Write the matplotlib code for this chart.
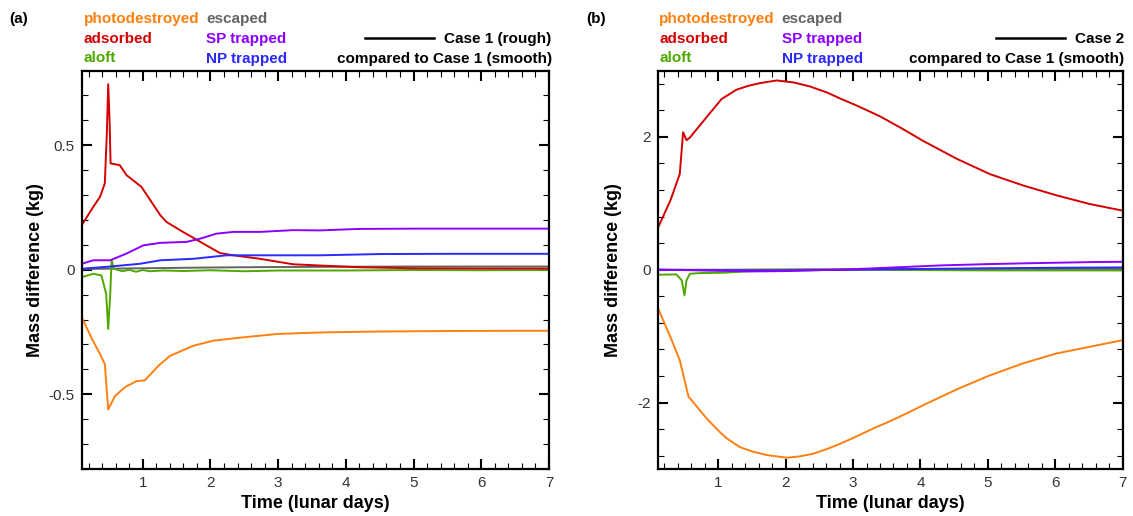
import matplotlib
matplotlib.use("Agg")
import matplotlib.pyplot as plt
from matplotlib.ticker import MultipleLocator, FixedLocator
from matplotlib.lines import Line2D

plt.rcParams['font.family'] = ['Liberation Sans', 'DejaVu Sans']
plt.rcParams['axes.unicode_minus'] = False

# ---------------- Data: panel (a) Case 1 (rough) vs Case 1 (smooth) ----------------
a_photo_t = [0.1, 0.25, 0.37, 0.44, 0.49, 0.59, 0.74, 0.91, 1.03, 1.23, 1.40, 1.75, 2.04, 2.39, 2.98, 3.37, 3.76, 4.5, 5.5, 6.5, 7.0]
a_photo_v = [-0.191, -0.278, -0.339, -0.379, -0.561, -0.507, -0.471, -0.447, -0.444, -0.386, -0.346, -0.305, -0.285, -0.274, -0.258, -0.254, -0.251, -0.248, -0.246, -0.245, -0.245]

a_ads_t = [0.1, 0.27, 0.37, 0.44, 0.47, 0.49, 0.51, 0.525, 0.66, 0.76, 0.98, 1.26, 1.35, 1.55, 1.85, 2.14, 2.34, 2.73, 3.22, 3.62, 4.2, 5.0, 6.0, 7.0]
a_ads_v = [0.179, 0.253, 0.293, 0.347, 0.55, 0.745, 0.60, 0.427, 0.42, 0.38, 0.333, 0.219, 0.192, 0.159, 0.112, 0.067, 0.058, 0.044, 0.022, 0.017, 0.01, 0.006, 0.005, 0.005]

a_aloft_t = [0.1, 0.27, 0.39, 0.46, 0.49, 0.52, 0.54, 0.57, 0.7, 0.8, 0.9, 1.0, 1.1, 1.3, 1.6, 2.0, 2.5, 3.0, 4.0, 5.0, 6.0, 7.0]
a_aloft_v = [-0.03, -0.016, -0.023, -0.097, -0.238, -0.097, 0.04, 0.004, -0.006, 0.0, -0.008, -0.001, -0.006, -0.003, -0.005, -0.002, -0.006, -0.003, -0.003, -0.001, -0.002, -0.001]

a_esc_t = [0.1, 1.0, 2.0, 3.0, 4.0, 5.0, 6.0, 7.0]
a_esc_v = [0.003, 0.006, 0.009, 0.011, 0.012, 0.013, 0.013, 0.013]

a_sp_t = [0.1, 0.27, 0.52, 0.76, 1.01, 1.26, 1.65, 1.85, 2.09, 2.34, 2.73, 3.22, 3.62, 4.2, 5.0, 6.0, 7.0]
a_sp_v = [0.024, 0.038, 0.038, 0.065, 0.098, 0.108, 0.112, 0.125, 0.145, 0.152, 0.152, 0.159, 0.158, 0.164, 0.165, 0.165, 0.165]

a_np_t = [0.1, 0.52, 0.96, 1.26, 1.75, 2.24, 2.73, 3.62, 4.5, 5.5, 7.0]
a_np_v = [0.004, 0.013, 0.024, 0.038, 0.044, 0.058, 0.058, 0.058, 0.063, 0.064, 0.064]

# ---------------- Data: panel (b) Case 2 vs Case 1 (smooth) ----------------
b_photo_t = [0.1, 0.29, 0.43, 0.56, 0.70, 0.83, 1.0, 1.13, 1.32, 1.52, 1.72, 2.02, 2.21, 2.41, 2.61, 2.81, 3.05, 3.30, 3.55, 3.80, 4.04, 4.29, 4.54, 5.03, 5.52, 6.02, 6.51, 7.0]
b_photo_v = [-0.56, -1.01, -1.36, -1.91, -2.08, -2.24, -2.42, -2.54, -2.67, -2.74, -2.79, -2.83, -2.81, -2.77, -2.70, -2.62, -2.51, -2.39, -2.28, -2.16, -2.04, -1.92, -1.80, -1.59, -1.41, -1.26, -1.16, -1.06]

b_ads_t = [0.1, 0.29, 0.43, 0.48, 0.53, 0.58, 0.83, 1.05, 1.27, 1.45, 1.62, 1.87, 2.12, 2.36, 2.61, 2.85, 3.06, 3.40, 3.72, 4.04, 4.54, 5.03, 5.52, 6.02, 6.51, 7.0]
b_ads_v = [0.617, 1.04, 1.44, 2.07, 1.95, 1.99, 2.30, 2.57, 2.71, 2.77, 2.81, 2.85, 2.82, 2.76, 2.67, 2.56, 2.47, 2.31, 2.13, 1.94, 1.67, 1.44, 1.27, 1.12, 0.99, 0.89]

b_aloft_t = [0.1, 0.38, 0.46, 0.50, 0.53, 0.58, 0.73, 1.08, 1.5, 2.0, 3.0, 4.0, 5.0, 6.0, 7.0]
b_aloft_v = [-0.075, -0.07, -0.16, -0.386, -0.16, -0.06, -0.05, -0.045, -0.02, -0.01, 0.0, -0.005, -0.01, -0.01, -0.01]

b_esc_t = [0.1, 1.0, 2.0, 3.0, 4.0, 5.0, 6.0, 7.0]
b_esc_v = [0.0, 0.0, 0.005, 0.01, 0.01, 0.012, 0.012, 0.012]

b_sp_t = [0.1, 0.5, 1.0, 1.5, 2.0, 2.5, 2.81, 3.5, 4.29, 5.0, 5.7, 6.52, 7.0]
b_sp_v = [0.0, -0.005, -0.015, -0.025, -0.02, -0.005, 0.0, 0.03, 0.065, 0.085, 0.1, 0.115, 0.12]

b_np_t = [0.1, 0.5, 1.0, 1.5, 2.0, 2.5, 3.0, 4.0, 5.0, 6.0, 7.0]
b_np_v = [0.0, -0.003, -0.008, -0.012, -0.01, -0.005, 0.0, 0.012, 0.022, 0.03, 0.035]

x_ticks = [1, 2, 3, 4, 5, 6, 7]

C_PHOTO = '#FF7F0F'
C_ADS = '#D40000'
C_ALOFT = '#4EA800'
C_ESC = '#646464'
C_SP = '#8C00FF'
C_NP = '#2A2AFF'

W, H = 1133, 516
fig = plt.figure(figsize=(W / 100, H / 100), dpi=100)

def px(x):
    return x / W

def py(y):
    return 1 - y / H

A_L, A_R = 81.8, 549.0
B_L, B_R = 657.5, 1122.7
TOP, BOT = 70.5, 469.0
ax_a = fig.add_axes([px(A_L), py(BOT), px(A_R) - px(A_L), py(TOP) - py(BOT)])
ax_b = fig.add_axes([px(B_L), py(BOT), px(B_R) - px(B_L), py(TOP) - py(BOT)])

lw = 1.4
def draw(ax, series):
    for t, v, c in series:
        ax.plot(t, v, color=c, lw=lw, solid_joinstyle='round')

draw(ax_a, [(a_esc_t, a_esc_v, C_ESC), (a_aloft_t, a_aloft_v, C_ALOFT), (a_ads_t, a_ads_v, C_ADS),
            (a_np_t, a_np_v, C_NP), (a_sp_t, a_sp_v, C_SP), (a_photo_t, a_photo_v, C_PHOTO)])
draw(ax_b, [(b_esc_t, b_esc_v, C_ESC), (b_aloft_t, b_aloft_v, C_ALOFT), (b_ads_t, b_ads_v, C_ADS),
            (b_np_t, b_np_v, C_NP), (b_sp_t, b_sp_v, C_SP), (b_photo_t, b_photo_v, C_PHOTO)])

ax_a.set_ylim(-0.8, 0.8)
ax_a.yaxis.set_major_locator(FixedLocator([-0.5, 0, 0.5]))
ax_a.yaxis.set_minor_locator(MultipleLocator(0.1))
ax_a.set_yticklabels(['-0.5', '0', '0.5'])

ax_b.set_ylim(-3, 3)
ax_b.yaxis.set_major_locator(FixedLocator([-2, 0, 2]))
ax_b.yaxis.set_minor_locator(MultipleLocator(0.4))
ax_b.set_yticklabels(['-2', '0', '2'])

for ax in (ax_a, ax_b):
    ax.set_xlim(0.1, 7)
    ax.xaxis.set_major_locator(FixedLocator(x_ticks))
    ax.set_xticklabels([str(v) for v in x_ticks])
    ax.xaxis.set_minor_locator(MultipleLocator(0.2))
    ax.tick_params(which='both', direction='in', top=True, right=True)
    ax.tick_params(which='major', length=7.5, width=1.5, labelsize=11, pad=5, labelcolor='#333333')
    ax.tick_params(which='minor', length=4, width=0.8)
    for s in ax.spines.values():
        s.set_linewidth(1.6)
    ax.set_xlabel('Time (lunar days)', fontsize=13, fontweight='bold', labelpad=4)
    ax.set_ylabel('Mass difference (kg)', fontsize=13, fontweight='bold')

ax_a.yaxis.set_label_coords((44 - A_L) / (A_R - A_L), 0.5)
ax_b.yaxis.set_label_coords((622 - B_L) / (B_R - B_L), 0.5)

fs = 11
def header(tag, tag_x, left_x, col2_x, right_x, line_x0, line_x1, case_text):
    fig.text(px(tag_x), py(19), tag, fontsize=fs, fontweight='bold', va='center', ha='left')
    rows = [py(19), py(38.8), py(58.5)]
    fig.text(px(left_x), rows[0], 'photodestroyed', color=C_PHOTO, fontsize=fs, fontweight='bold', va='center')
    fig.text(px(left_x), rows[1], 'adsorbed', color=C_ADS, fontsize=fs, fontweight='bold', va='center')
    fig.text(px(left_x), rows[2], 'aloft', color=C_ALOFT, fontsize=fs, fontweight='bold', va='center')
    fig.text(px(col2_x), rows[0], 'escaped', color=C_ESC, fontsize=fs, fontweight='bold', va='center')
    fig.text(px(col2_x), rows[1], 'SP trapped', color=C_SP, fontsize=fs, fontweight='bold', va='center')
    fig.text(px(col2_x), rows[2], 'NP trapped', color=C_NP, fontsize=fs, fontweight='bold', va='center')
    fig.text(px(right_x), rows[1], case_text, color='black', fontsize=fs, fontweight='bold', va='center', ha='right')
    fig.text(px(right_x), rows[2], 'compared to Case 1 (smooth)', color='black', fontsize=fs, fontweight='bold', va='center', ha='right')
    fig.add_artist(Line2D([px(line_x0), px(line_x1)], [py(37.5), py(37.5)], color='black', lw=1.8, transform=fig.transFigure))

header('(a)', 9, 83.6, 206.4, 551.7, 365, 434, 'Case 1 (rough)')
header('(b)', 586, 659, 781.8, 1123.8, 996, 1064.6, 'Case 2')

fig.savefig('out.png', dpi=100)
